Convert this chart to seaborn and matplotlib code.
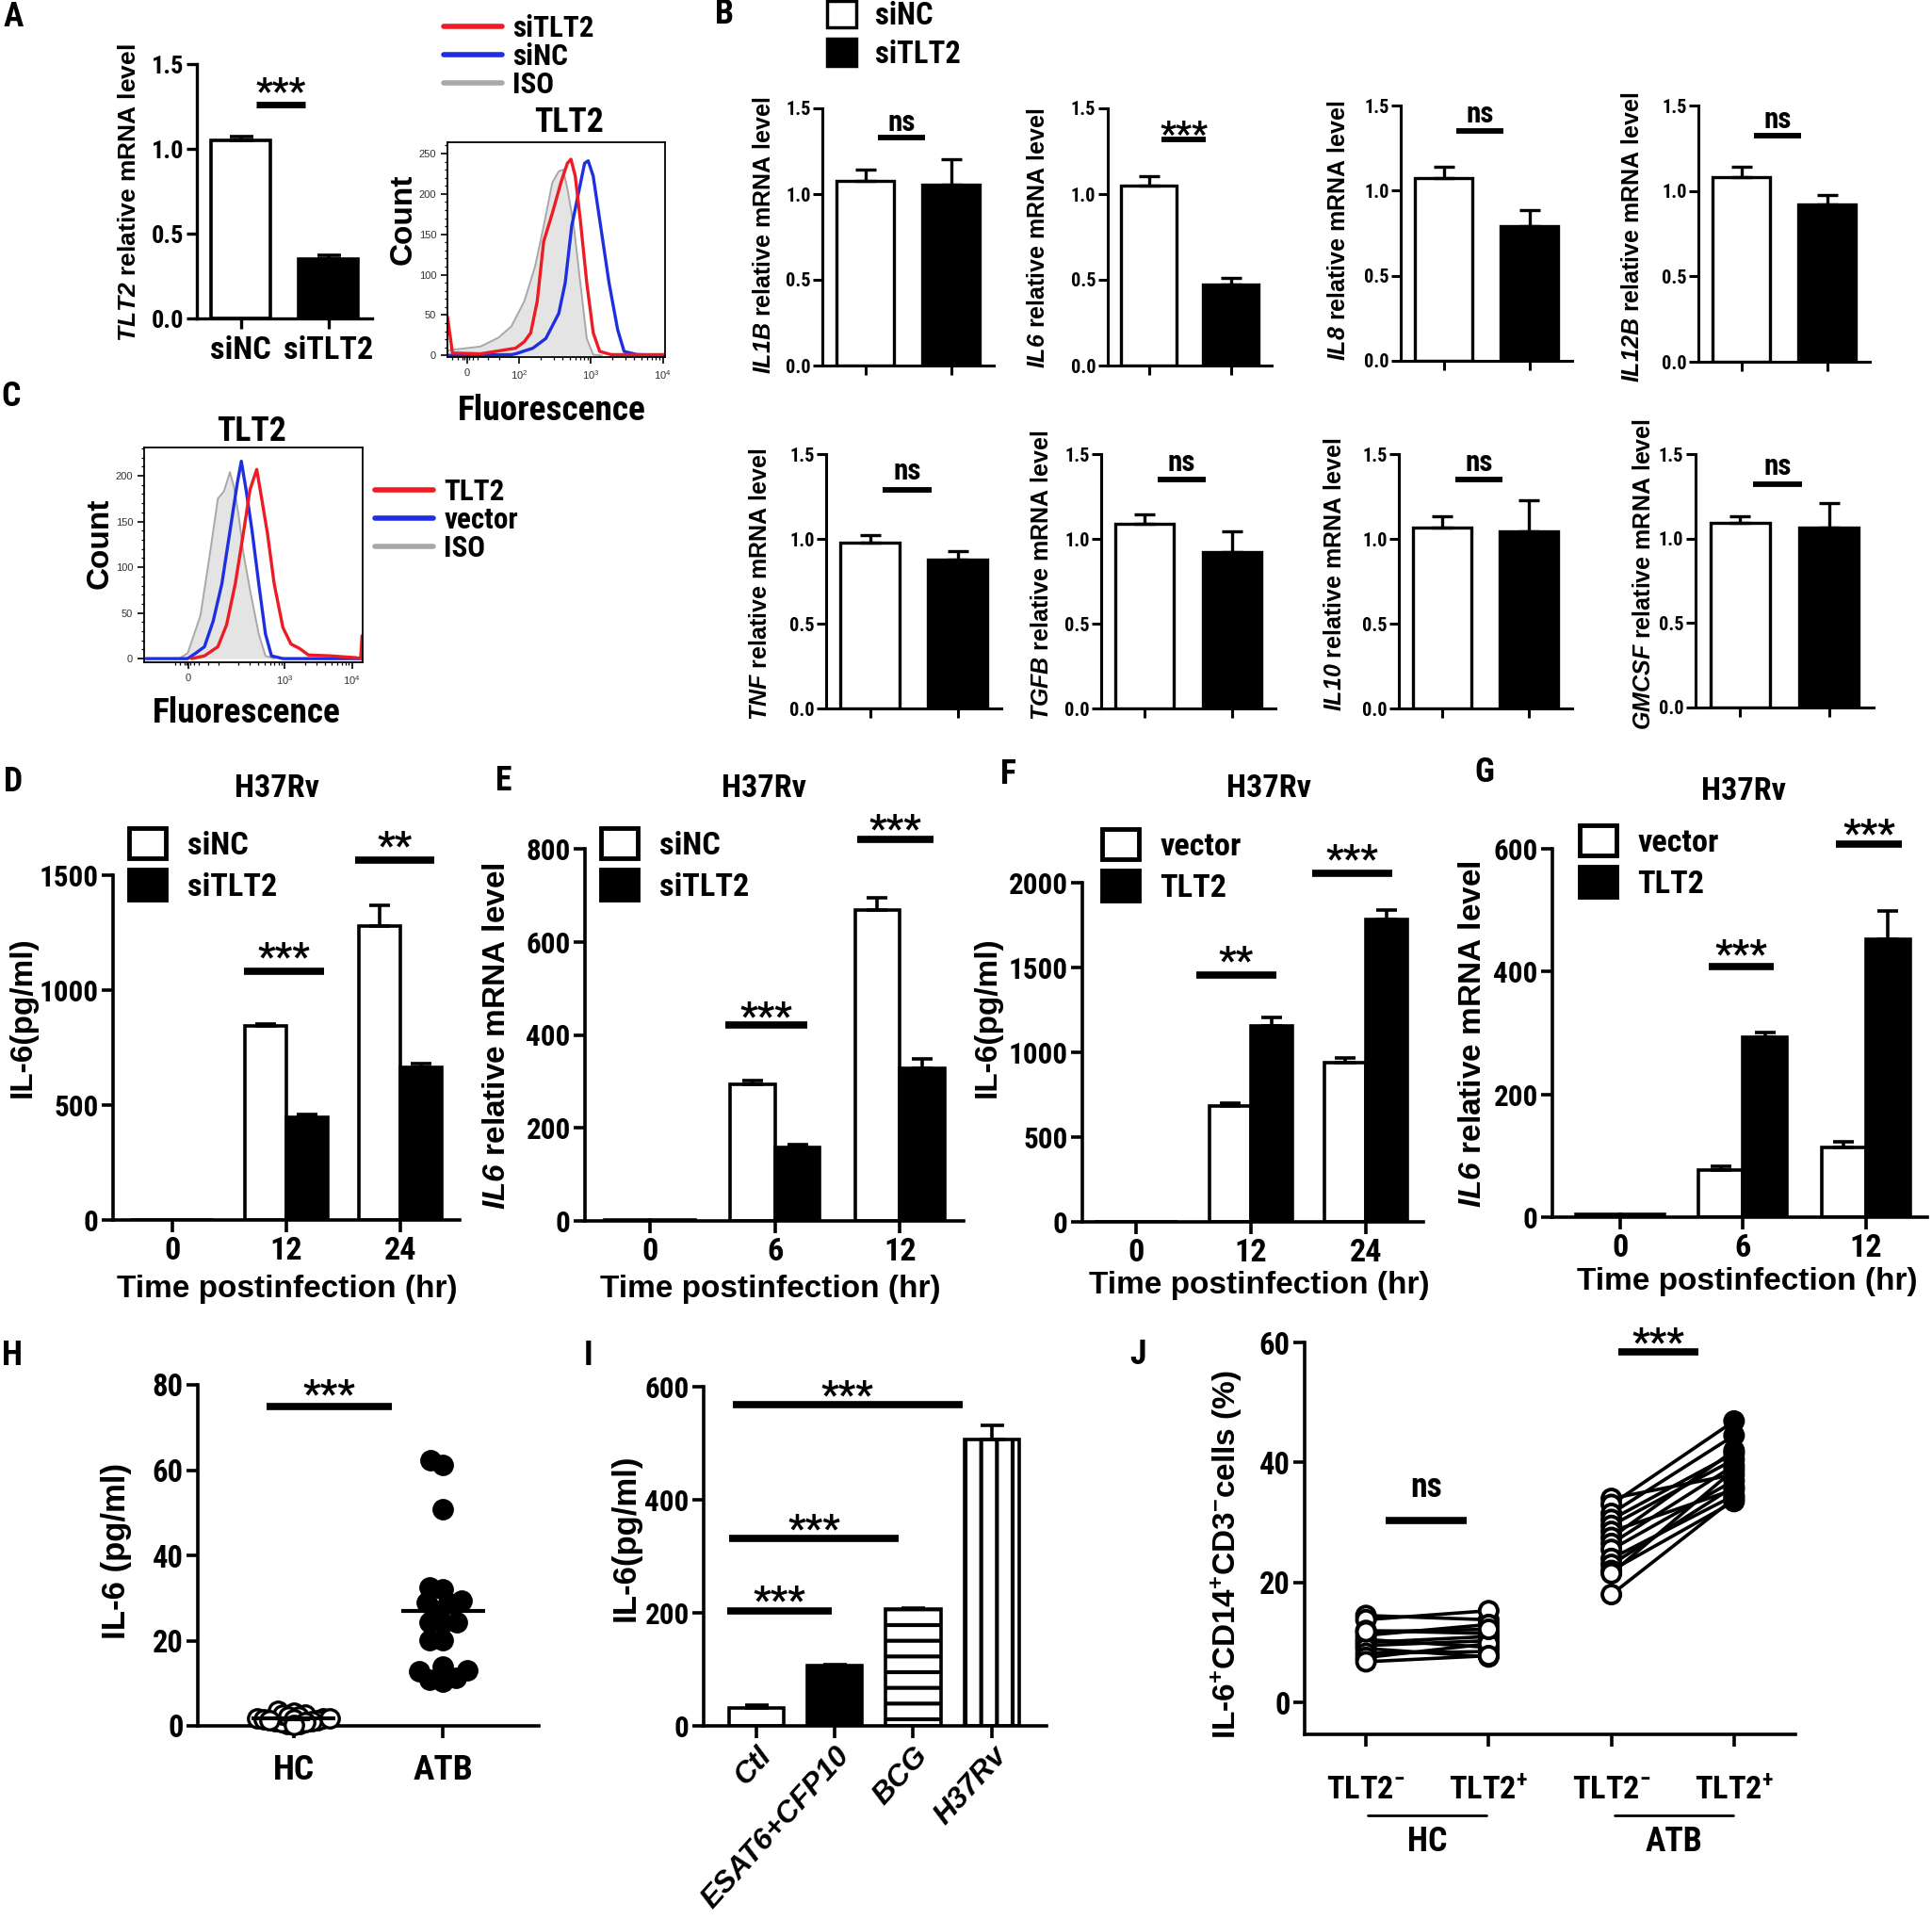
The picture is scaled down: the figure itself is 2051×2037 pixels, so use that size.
import warnings
import numpy as np
import pandas as pd
import matplotlib
matplotlib.use("Agg")
import matplotlib.pyplot as plt
from matplotlib import font_manager
from matplotlib.lines import Line2D
from matplotlib.patches import Patch
import seaborn as sns

warnings.filterwarnings("ignore")

# ==============================================================
# DATA
# ==============================================================

# A - TLT2 knockdown, qPCR
a_groups = ["siNC", "siTLT2"]
a_mean = [1.05, 0.35]
a_err = [0.02, 0.025]

# A - flow histogram (x in display units: 2 = 10^2, 3 = 10^3, 4 = 10^4)
fa_iso_x = [1.00, 1.07, 1.46, 1.71, 1.89, 2.07, 2.22, 2.34, 2.46, 2.55, 2.61, 2.67, 2.76, 2.85, 2.94, 3.03, 3.15]
fa_iso_y = [6, 7, 11, 22, 36, 67, 110, 160, 214, 228, 230, 207, 160, 90, 21, 1, 0]
fa_red_x = [1.00, 1.01, 1.07, 1.46, 1.95, 2.07, 2.16, 2.25, 2.34, 2.46, 2.58, 2.67, 2.72, 2.78, 2.85, 2.94, 3.03, 3.12, 3.28, 4.03]
fa_red_y = [48, 42, 3, 2, 9, 17, 28, 67, 141, 176, 214, 238, 243, 222, 168, 90, 28, 5, 1, 1]
fa_blue_x = [1.00, 1.89, 1.95, 2.19, 2.37, 2.55, 2.64, 2.73, 2.82, 2.91, 2.96, 3.03, 3.12, 3.25, 3.37, 3.46, 3.64, 4.03]
fa_blue_y = [0, 1, 2, 9, 21, 52, 90, 160, 199, 238, 241, 222, 168, 90, 32, 5, 1, 0]

# C - flow histogram, overexpression
fc_iso_x = [1.42, 1.55, 1.74, 1.87, 2.00, 2.09, 2.18, 2.24, 2.31, 2.38, 2.48, 2.61, 2.71, 2.84]
fc_iso_y = [0, 6, 47, 109, 175, 183, 204, 188, 157, 116, 75, 27, 3, 0]
fc_blue_x = [0.93, 1.48, 1.55, 1.67, 1.80, 1.93, 2.06, 2.19, 2.29, 2.35, 2.42, 2.51, 2.61, 2.71, 2.80, 2.97, 4.16]
fc_blue_y = [0, 0, 0, 6, 13, 41, 82, 144, 192, 216, 185, 140, 82, 27, 3, 0, 0]
fc_red_x = [1.61, 1.80, 2.00, 2.13, 2.26, 2.38, 2.48, 2.58, 2.64, 2.74, 2.84, 2.97, 3.09, 3.22, 3.35, 3.68, 4.06, 4.13, 4.15]
fc_red_y = [0, 3, 13, 37, 82, 137, 185, 207, 181, 137, 82, 34, 16, 11, 4, 3, 1, 0, 25]

# B - cytokine mRNA after knockdown
b_genes = ["IL1B", "IL6", "IL8", "IL12B", "TNF", "TGFB", "IL10", "GMCSF"]
b_sinc = [1.077, 1.05, 1.072, 1.08, 0.979, 1.09, 1.066, 1.094]
b_sinc_err = [0.065, 0.055, 0.067, 0.064, 0.044, 0.055, 0.068, 0.04]
b_sitlt2 = [1.057, 0.475, 0.79, 0.922, 0.876, 0.924, 1.046, 1.066]
b_sitlt2_err = [0.145, 0.035, 0.093, 0.056, 0.051, 0.118, 0.181, 0.142]
b_sig = ["ns", "***", "ns", "ns", "ns", "ns", "ns", "ns"]
b_sig_y = [1.33, 1.32, 1.353, 1.324, 1.29, 1.35, 1.352, 1.319]
b_sig_ty = [1.42, 1.40, 1.45, 1.42, 1.40, 1.45, 1.45, 1.43]

# D - IL-6 protein, knockdown
d_time = ["0", "12", "24"]
d_sinc = [0, 843, 1280]
d_sinc_err = [0, 8, 88]
d_sitlt2 = [0, 447, 664]
d_sitlt2_err = [0, 12, 15]

# E - IL6 mRNA, knockdown
e_time = ["0", "6", "12"]
e_sinc = [2, 293, 669]
e_sinc_err = [0, 8, 26]
e_sitlt2 = [2, 157, 328]
e_sitlt2_err = [0, 8, 20]

# F - IL-6 protein, overexpression
f_time = ["0", "12", "24"]
f_vector = [0, 685, 939]
f_vector_err = [0, 14, 28]
f_tlt2 = [0, 1155, 1785]
f_tlt2_err = [0, 53, 53]

# G - IL6 mRNA, overexpression
g_time = ["0", "6", "12"]
g_vector = [4, 76, 114]
g_vector_err = [0, 7, 8]
g_tlt2 = [4, 293, 452]
g_tlt2_err = [0, 8, 47]

# H - serum IL-6
h_hc = [1.8, 1.1, 3.2, 1.4, 2.7, 3.6, 1.1, 1.8, 0.5, 0.5, 0.9, 2.3, 2.7, 1.8, 1.6, 2.3, 1.6, 0.9, 0.2, 1.3]
h_atb = [62.4, 61.3, 50.9, 32.5, 32.1, 28.9, 28.7, 29.4, 26.9, 24.4,
         24.1, 24.4, 20.2, 20.2, 13.1, 14.0, 11.3, 10.4, 10.8, 12.8]

# I - IL-6 after stimulation
i_groups = ["Ctl", "ESAT6+CFP10", "BCG", "H37Rv"]
i_mean = [32, 107, 206, 506]
i_err = [5, 2, 2, 25]

# J - paired IL-6+ monocytes
j_labels = ["TLT2$^{-}$", "TLT2$^{+}$", "TLT2$^{-}$", "TLT2$^{+}$"]
j_hc_neg = [14.5, 13.8, 12.0, 11.2, 10.5, 10.0, 9.5, 9.0, 8.2, 7.5, 6.8, 11.8]
j_hc_pos = [13.8, 15.3, 11.5, 13.0, 9.2, 11.0, 10.3, 7.6, 8.5, 9.8, 7.8, 12.2]
j_atb_neg = [34.0, 33.0, 31.5, 30.5, 29.5, 28.5, 27.5, 26.5, 25.5, 24.0, 23.0, 22.0, 21.5, 18.0]
j_atb_pos = [38.0, 46.9, 44.5, 41.5, 40.5, 35.5, 42.0, 39.5, 37.0, 34.5, 36.0, 33.5, 38.8, 34.0]


# ==============================================================
# STYLE
# ==============================================================

sns.set_style("ticks")
names = {f.name for f in font_manager.fontManager.ttflist}
NARROW = next((n for n in ["Liberation Sans Narrow", "Arial Narrow", "Roboto Condensed"] if n in names),
              "Liberation Sans")
ARIAL = "Liberation Sans"
NS = 1.12 if NARROW != ARIAL else 1.0   # condensed faces can be set a little larger
plt.rcParams.update({
    "font.family": [NARROW, "DejaVu Sans"],
    "font.weight": "bold",
    "mathtext.fontset": "custom",
    "mathtext.default": "regular",
    "mathtext.it": "Liberation Sans:italic:bold",
    "mathtext.rm": "Liberation Sans:italic:bold",
    "mathtext.bf": "Liberation Sans:bold",
    "hatch.linewidth": 3.0,
    "axes.edgecolor": "black",
    "text.color": "black",
    "xtick.color": "black",
    "ytick.color": "black",
    "axes.labelcolor": "black",
})

W, H = 2051, 2037
fig = plt.figure(figsize=(W / 100, H / 100), dpi=100)
fig.patch.set_facecolor("white")


def add_ax(box):
    l, t, r, b = box
    return fig.add_axes([l / W, 1 - b / H, (r - l) / W, (b - t) / H])


def ftext(x, y, s, size, **kw):
    kw.setdefault("ha", "center")
    kw.setdefault("va", "center")
    fig.text(x / W, 1 - y / H, s, fontsize=size, **kw)


def prism(ax, ylim, yticks, lw=2.4, tl=8, ysize=18, xsize=22):
    ax.set_ylim(*ylim)
    ax.set_yticks(yticks)
    sns.despine(ax=ax)
    for s in ("left", "bottom"):
        ax.spines[s].set_linewidth(lw)
    ax.tick_params(axis="both", width=lw, length=tl, color="black")
    ax.tick_params(axis="y", labelsize=ysize * NS, pad=2)
    ax.tick_params(axis="x", labelsize=xsize * NS, pad=5)
    ax.set_xlabel("")
    ax.set_ylabel("")


def add_errors(ax, errs, cap=8, lw=2.4):
    bars = sorted(ax.patches, key=lambda p: p.get_x())
    for p, e in zip(bars, errs):
        if e <= 0:
            continue
        x = p.get_x() + p.get_width() / 2
        ax.errorbar(x, p.get_height(), yerr=[[0], [e]], fmt="none", ecolor="black",
                    elinewidth=lw, capsize=cap, capthick=lw, zorder=1)


def sig(ax, x1, x2, y, ty, s, size=20, lw=4.5):
    ax.plot([x1, x2], [y, y], color="black", lw=lw, clip_on=False, solid_capstyle="butt")
    if "*" in s:
        size = size * 1.2
        dy = -0.32 * size
    else:
        dy = 0
    ax.annotate(s, xy=((x1 + x2) / 2, ty), xytext=(0, dy), textcoords="offset points",
                ha="center", va="center", fontsize=size * NS, annotation_clip=False)


def flow_axes(ax, xlim, xticks, xlabels, ylim, yticks):
    ax.set_xlim(*xlim)
    ax.set_ylim(*ylim)
    for s in ax.spines.values():
        s.set_linewidth(1.3)
        s.set_visible(True)
    ax.set_xticks(xticks)
    ax.set_xticklabels(xlabels)
    ax.set_yticks(yticks)
    minor_x = [d + np.log10(k) for d in (2, 3) for k in range(2, 10)]
    minor_x += [xticks[0] + o for o in (-0.2, -0.12, -0.06, -0.03, 0.03, 0.08, 0.15, 0.3, 0.45)]
    ax.set_xticks([m for m in minor_x if xlim[0] < m < xlim[1]], minor=True)
    ax.set_yticks(np.arange(0, ylim[1], 10), minor=True)
    ax.tick_params(which="major", length=5, width=1.2, labelsize=8, direction="out")
    ax.tick_params(which="minor", length=2.5, width=0.9, direction="out")
    for lab in ax.get_xticklabels() + ax.get_yticklabels():
        lab.set_fontfamily(ARIAL)
        lab.set_fontweight("normal")
        lab.set_color("#333333")
    ax.set_xlabel("")
    ax.set_ylabel("")


RED, BLUE, GREY = "#ec1c24", "#1f2fe0", "#a8a8a8"

# ==============================================================
# A - bar
# ==============================================================
axA = add_ax((209, 68, 395, 338))
dfa = pd.DataFrame({"group": a_groups, "level": a_mean})
sns.barplot(data=dfa, x="group", y="level", hue="group", palette=dict(zip(a_groups, ["white", "black"])),
            width=0.68, edgecolor="black", linewidth=2.6, saturation=1, errorbar=None, legend=False, ax=axA)
add_errors(axA, a_err, cap=9, lw=2.6)
prism(axA, (0, 1.5), [0, 0.5, 1.0, 1.5], ysize=17, xsize=22)
axA.set_xlim(-0.5, 1.5)
axA.yaxis.set_major_formatter("{x:.1f}")
sig(axA, 0.18, 0.74, 1.26, 1.39, "***", size=21, lw=5)
ftext(137, 205, r"$\mathit{TLT2}$ relative mRNA level", 19, rotation=90, family=ARIAL)

# ==============================================================
# A - flow
# ==============================================================
axAf = add_ax((475, 151, 706, 379))
axAf.fill_between(fa_iso_x, fa_iso_y, color="#e4e4e4", lw=0)
sns.lineplot(x=fa_iso_x, y=fa_iso_y, color=GREY, lw=1.4, sort=False, ax=axAf)
sns.lineplot(x=fa_blue_x, y=fa_blue_y, color=BLUE, lw=2.4, sort=False, ax=axAf)
sns.lineplot(x=fa_red_x, y=fa_red_y, color=RED, lw=2.4, sort=False, ax=axAf)
flow_axes(axAf, (1.0, 4.03), [1.27, 2, 3, 4], ["0", "$10^{2}$", "$10^{3}$", "$10^{4}$"],
          (-2, 264), [0, 50, 100, 150, 200, 250])
axAf.legend([Line2D([], [], color=c, lw=4) for c in (RED, BLUE, GREY)], ["siTLT2", "siNC", "ISO"],
            loc="upper left", bbox_to_anchor=(471 / W, 1 - 15 / H), bbox_transform=fig.transFigure,
            frameon=False, fontsize=20 * NS, handlelength=2.0, handletextpad=0.35, labelspacing=0.0,
            borderpad=0, borderaxespad=0)
ftext(604, 130, "TLT2", 23 * NS)
ftext(428, 233, "Count", 24, rotation=90, family=ARIAL)
ftext(586, 436, "Fluorescence", 24 * NS)

# ==============================================================
# C - flow
# ==============================================================
axC = add_ax((153, 475, 385, 703))
axC.fill_between(fc_iso_x, fc_iso_y, color="#e4e4e4", lw=0)
sns.lineplot(x=fc_iso_x, y=fc_iso_y, color=GREY, lw=1.4, sort=False, ax=axC)
sns.lineplot(x=fc_blue_x, y=fc_blue_y, color=BLUE, lw=2.4, sort=False, ax=axC)
sns.lineplot(x=fc_red_x, y=fc_red_y, color=RED, lw=2.4, sort=False, ax=axC)
flow_axes(axC, (0.90, 4.16), [1.56, 3, 4], ["0", "$10^{3}$", "$10^{4}$"],
          (-4, 231), [0, 50, 100, 150, 200])
axC.legend([Line2D([], [], color=c, lw=4) for c in (RED, BLUE, GREY)], ["TLT2", "vector", "ISO"],
           loc="upper left", bbox_to_anchor=(398 / W, 1 - 507 / H), bbox_transform=fig.transFigure,
           frameon=False, fontsize=20 * NS, handlelength=2.0, handletextpad=0.35, labelspacing=0.0,
           borderpad=0, borderaxespad=0)
ftext(267, 458, "TLT2", 23 * NS)
ftext(106, 577, "Count", 24, rotation=90, family=ARIAL)
ftext(262, 757, "Fluorescence", 24 * NS)

# ==============================================================
# B - eight small bar charts
# ==============================================================
b_boxes = [(873, 115, 1055, 388), (1176, 115, 1350, 388), (1487, 112, 1669, 383), (1803, 112, 1985, 384),
           (877, 482, 1063, 752), (1169, 482, 1354, 752), (1485, 482, 1669, 752), (1800, 482, 1989, 751)]
b_label_pos = [(811, 250), (1102, 253), (1421, 245), (1733, 252),
               (807, 620), (1106, 611), (1417, 610), (1745, 610)]
for i, gene in enumerate(b_genes):
    ax = add_ax(b_boxes[i])
    df = pd.DataFrame({"group": ["siNC", "siTLT2"], "level": [b_sinc[i], b_sitlt2[i]]})
    sns.barplot(data=df, x="group", y="level", hue="group", palette={"siNC": "white", "siTLT2": "black"},
                width=0.67, edgecolor="black", linewidth=2.4, saturation=1, errorbar=None, legend=False, ax=ax)
    add_errors(ax, [b_sinc_err[i], b_sitlt2_err[i]], cap=8, lw=2.4)
    prism(ax, (0, 1.5), [0, 0.5, 1.0, 1.5], lw=2.2, tl=7, ysize=13)
    ax.set_xlim(-0.5, 1.5)
    ax.set_xticklabels([])
    ax.yaxis.set_major_formatter("{x:.1f}")
    sig(ax, 0.15, 0.70, b_sig_y[i], b_sig_ty[i], b_sig[i], size=20, lw=4.2)
    ftext(*b_label_pos[i], rf"$\mathit{{{gene}}}$ relative mRNA level", 18, rotation=90, family=ARIAL)

axB0 = fig.axes[-8]
axB0.legend([Patch(facecolor=c, edgecolor="black", linewidth=2.5) for c in ("white", "black")],
            ["siNC", "siTLT2"], loc="upper left", bbox_to_anchor=(878 / W, 1 - 1 / H),
            bbox_transform=fig.transFigure, frameon=False, fontsize=21 * NS, handlelength=0.95,
            handleheight=0.95, handletextpad=0.6, labelspacing=0.25, borderpad=0, borderaxespad=0)

# ==============================================================
# D-G - time course bar charts
# ==============================================================
panels = [
    dict(box=(120, 929, 488, 1295), xlim=(-0.52, 2.52), t=d_time, names=("siNC", "siTLT2"),
         v1=d_sinc, e1=d_sinc_err, v2=d_sitlt2, e2=d_sitlt2_err, ymax=1500, yticks=[0, 500, 1000, 1500],
         ylabel="IL-6(pg/ml)", ylab=(24, 1080), title=(294, 837), xlab=(305, 1369), leg=(137, 879),
         sigs=[("***", 0.63, 1.33, 1082, 1185), ("**", 1.60, 2.30, 1566, 1669)]),
    dict(box=(621, 901, 1023, 1296), xlim=(-0.52, 2.51), t=e_time, names=("siNC", "siTLT2"),
         v1=e_sinc, e1=e_sinc_err, v2=e_sitlt2, e2=e_sitlt2_err, ymax=800, yticks=[0, 200, 400, 600, 800],
         ylabel=r"$\mathit{IL6}$ relative mRNA level", ylab=(527, 1100), title=(811, 837), xlab=(818, 1369),
         leg=(638, 879), sigs=[("***", 0.60, 1.26, 422, 461), ("***", 1.66, 2.27, 820, 864)]),
    dict(box=(1149, 937, 1511, 1297), xlim=(-0.47, 2.5), t=f_time, names=("vector", "TLT2"),
         v1=f_vector, e1=f_vector_err, v2=f_tlt2, e2=f_tlt2_err, ymax=2000, yticks=[0, 500, 1000, 1500, 2000],
         ylabel="IL-6(pg/ml)", ylab=(1048, 1080), title=(1347, 837), xlab=(1337, 1365), leg=(1170, 880),
         sigs=[("**", 0.52, 1.22, 1456, 1599), ("***", 1.53, 2.23, 2056, 2195)]),
    dict(box=(1648, 901, 2046, 1292), xlim=(-0.55, 2.5), t=g_time, names=("vector", "TLT2"),
         v1=g_vector, e1=g_vector_err, v2=g_tlt2, e2=g_tlt2_err, ymax=600, yticks=[0, 200, 400, 600],
         ylabel=r"$\mathit{IL6}$ relative mRNA level", ylab=(1563, 1098), title=(1851, 840), xlab=(1855, 1360),
         leg=(1677, 876), sigs=[("***", 0.72, 1.25, 408, 444), ("***", 1.76, 2.29, 607, 641)]),
]
for p in panels:
    ax = add_ax(p["box"])
    n1, n2 = p["names"]
    df = pd.DataFrame({
        "time": p["t"] * 2,
        "group": [n1] * len(p["t"]) + [n2] * len(p["t"]),
        "value": p["v1"] + p["v2"],
    })
    sns.barplot(data=df, x="time", y="value", hue="group", order=p["t"], hue_order=[n1, n2],
                palette={n1: "white", n2: "black"}, width=0.72, edgecolor="black", linewidth=2.6,
                saturation=1, errorbar=None, legend=False, ax=ax)
    errs = [e for pair in zip(p["e1"], p["e2"]) for e in pair]
    add_errors(ax, errs, cap=8, lw=2.6)
    prism(ax, (0, p["ymax"]), p["yticks"], lw=2.6, tl=9, ysize=20, xsize=22)
    ax.tick_params(axis="x", pad=3)
    ax.set_xlim(*p["xlim"])
    for s, x1, x2, y, ty in p["sigs"]:
        sig(ax, x1, x2, y, ty, s, size=22, lw=5.5)
    ax.legend([Patch(facecolor=c, edgecolor="black", linewidth=3.5) for c in ("white", "black")],
              [n1, n2], loc="upper left", bbox_to_anchor=(p["leg"][0] / W, 1 - p["leg"][1] / H),
              bbox_transform=fig.transFigure, frameon=False, fontsize=22 * NS, handlelength=1.15,
              handleheight=1.05, handletextpad=0.65, labelspacing=0.28, borderpad=0, borderaxespad=0)
    ftext(*p["title"], "H37Rv", 22 * NS)
    ftext(*p["ylab"], p["ylabel"], 24, rotation=90, family=ARIAL)
    ftext(*p["xlab"], "Time postinfection (hr)", 24, family=ARIAL)

# ==============================================================
# H - scatter
# ==============================================================
axH = add_ax((210, 1470, 572, 1832))
prism(axH, (0, 80), [0, 20, 40, 60, 80], lw=2.6, tl=9, ysize=21, xsize=24)
# the swarm is laid out with small markers, then drawn with larger, overlapping ones
for grp, vals, fill, layout_size in [("HC", h_hc, "white", 4.5), ("ATB", h_atb, "black", 10)]:
    sub = pd.DataFrame({"group": [grp] * len(vals), "il6": vals})
    sns.swarmplot(data=sub, x="group", y="il6", order=["HC", "ATB"], color=fill,
                  linewidth=0, size=layout_size, ax=axH, clip_on=False, zorder=3)
axH.set_xlim(-0.64, 1.64)
axH.set_ylim(0, 80)
axH.set_xlabel("")
axH.set_ylabel("")
fig.canvas.draw()
for coll in axH.collections:
    if "draw" in coll.__dict__:
        del coll.draw
        coll.set_sizes([14 ** 2])
        coll.set_edgecolor("black")
        coll.set_linewidths(2.4)
for k, vals in enumerate([h_hc, h_atb]):
    m = np.mean(vals)
    se = np.std(vals, ddof=1) / np.sqrt(len(vals))
    axH.hlines(m, k - 0.28, k + 0.28, color="black", lw=3, zorder=4)
    axH.errorbar(k, m, yerr=se, fmt="none", ecolor="black", elinewidth=3, capsize=12, capthick=3, zorder=4)
axH.tick_params(axis="x", pad=12)
sig(axH, -0.18, 0.66, 75, 80, "***", size=22, lw=5.5)
ftext(124, 1646, "IL-6 (pg/ml)", 25, rotation=90, family=ARIAL)

# ==============================================================
# I - stimulation bars
# ==============================================================
axI = add_ax((747, 1472, 1111, 1832))
dfi = pd.DataFrame({"stim": i_groups, "il6": i_mean})
sns.barplot(data=dfi, x="stim", y="il6", hue="stim", order=i_groups,
            palette=dict(zip(i_groups, ["white", "black", "white", "white"])), width=0.70,
            edgecolor="black", linewidth=2.6, saturation=1, errorbar=None, legend=False, ax=axI)
ibars = sorted(axI.patches, key=lambda p: p.get_x())
ibars[2].set_hatch("-")
ibars[3].set_hatch("|")
add_errors(axI, i_err, cap=9, lw=2.6)
prism(axI, (0, 600), [0, 200, 400, 600], lw=2.6, tl=9, ysize=20, xsize=24)
axI.set_xlim(-0.67, 3.70)
axI.set_xticks(range(len(i_groups)))
axI.set_xticklabels(i_groups, rotation=48, ha="right", rotation_mode="anchor",
                    fontstyle="italic", family=ARIAL, fontsize=23)
axI.tick_params(axis="x", pad=3)
for s, x1, x2, y, ty in [("***", -0.37, 0.96, 203, 239), ("***", -0.35, 1.82, 332, 366),
                         ("***", -0.30, 2.63, 569, 603)]:
    sig(axI, x1, x2, y, ty, s, size=22, lw=5.5)
ftext(664, 1632, "IL-6(pg/ml)", 25, rotation=90, family=ARIAL)

# ==============================================================
# J - paired lines
# ==============================================================
axJ = add_ax((1385, 1425, 1906, 1841))
rows = []
for d, (a, b) in enumerate(zip(j_hc_neg, j_hc_pos)):
    rows += [("HC%d" % d, 0, a, "open"), ("HC%d" % d, 1, b, "open")]
for d, (a, b) in enumerate(zip(j_atb_neg, j_atb_pos)):
    rows += [("ATB%d" % d, 2, a, "open"), ("ATB%d" % d, 3, b, "solid")]
dfj = pd.DataFrame(rows, columns=["donor", "pos", "pct", "fill"])
sns.lineplot(data=dfj, x="pos", y="pct", units="donor", estimator=None, color="black", lw=2.6,
             legend=False, ax=axJ)
sns.scatterplot(data=dfj, x="pos", y="pct", hue="fill", palette={"open": "white", "solid": "black"},
                edgecolor="black", linewidth=2.8, s=190, legend=False, zorder=3, ax=axJ)
prism(axJ, (-5.3, 60), [0, 20, 40, 60], lw=2.6, tl=9, ysize=21, xsize=22)
axJ.set_xlim(-0.5, 3.5)
axJ.set_xticks(range(4))
axJ.set_xticklabels(j_labels)
axJ.tick_params(axis="x", pad=22)
sig(axJ, 0.16, 0.82, 30.3, 35.8, "ns", size=23, lw=5.5)
sig(axJ, 2.06, 2.71, 58.5, 61.7, "***", size=22, lw=5.5)
ftext(1302, 1650, "IL-6$^{+}$CD14$^{+}$CD3$^{-}$cells (%)", 24, rotation=90, family=ARIAL)
for x1, x2, lab in [(1452, 1578, "HC"), (1714, 1840, "ATB")]:
    fig.add_artist(Line2D([x1 / W, x2 / W], [1 - 1927 / H] * 2, color="black", lw=2))
    ftext((x1 + x2) / 2, 1955, lab, 23 * NS)

# ==============================================================
# panel letters
# ==============================================================
for lab, x, y in [("A", 14, 18), ("B", 769, 15), ("C", 12, 421), ("D", 14, 830), ("E", 535, 829),
                  ("F", 1071, 822), ("G", 1576, 820), ("H", 13, 1439), ("I", 625, 1439), ("J", 1208, 1438)]:
    ftext(x, y, lab, 23 * NS)

plt.savefig("out.png", dpi=100)
